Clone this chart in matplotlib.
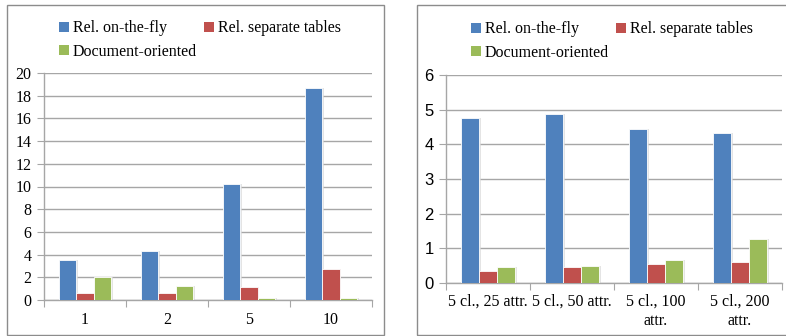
import matplotlib
matplotlib.use("Agg")
import matplotlib.pyplot as plt
from matplotlib.patches import Patch, Rectangle
import numpy as np

series_names = ["Rel. on-the-fly", "Rel. separate tables", "Document-oriented"]
colors = ["#4F81BD", "#C0504D", "#9BBB59"]

left_categories = ["1", "2", "5", "10"]
left_onthefly = [3.5, 4.35, 10.2, 18.7]
left_separate = [0.6, 0.6, 1.15, 2.75]
left_document = [2.0, 1.25, 0.2, 0.2]

right_categories = ["5 cl., 25 attr.", "5 cl., 50 attr.", "5 cl., 100\nattr.", "5 cl., 200\nattr."]
right_onthefly = [4.75, 4.87, 4.45, 4.33]
right_separate = [0.35, 0.45, 0.55, 0.62]
right_document = [0.45, 0.5, 0.67, 1.28]

serif = "Liberation Serif"
sans = "Liberation Sans"

fig = plt.figure(figsize=(7.86, 3.36), dpi=100)
W, H = 786, 336

def fx(px):
    return px / W

def fy(py):
    return 1 - py / H

# panel borders
for (x0, y0, x1, y1) in [(7, 5, 384, 335), (417, 5, 790, 335)]:
    fig.patches.append(Rectangle((fx(x0), fy(y1)), fx(x1 - x0), (y1 - y0) / H,
                                 transform=fig.transFigure, fill=False,
                                 edgecolor="#8c8c8c", linewidth=1.0))

def draw(ax, cats, data, ymax, leg_anchor):
    x = np.arange(len(cats))
    w = 0.215
    for i, (vals, c) in enumerate(zip(data, colors)):
        off = (i - 1) * w
        # shadow
        ax.bar(x + off + 0.02, vals, w, bottom=0, color="#d9d9d9", zorder=2,
               linewidth=0, alpha=0.7)
        ax.bar(x + off, vals, w, color=c, zorder=3, linewidth=0.6, edgecolor="white")
    ax.set_xlim(-0.5, len(cats) - 0.5)
    ax.set_ylim(0, ymax)
    ax.yaxis.grid(True, color="#a6a6a6", linewidth=1.0, zorder=0)
    ax.set_axisbelow(True)
    for s in ["top", "right"]:
        ax.spines[s].set_visible(False)
    for s in ["left", "bottom"]:
        ax.spines[s].set_color("#a6a6a6")
        ax.spines[s].set_linewidth(1.0)
    ax.set_xticks(np.arange(len(cats) + 1) - 0.5)
    ax.set_xticklabels([])
    ax.set_xticks(x, minor=True)
    ax.set_xticklabels(cats, minor=True, fontfamily=serif, fontsize=11.5)
    ax.tick_params(axis="x", which="major", length=5, color="#a6a6a6", direction="out")
    ax.tick_params(axis="x", which="minor", length=0, pad=9)
    ax.tick_params(axis="y", length=5, color="#a6a6a6", direction="out", pad=4)
    # legend filled row-wise: row1 = on-the-fly, separate; row2 = document
    order = [0, 2, 1]
    handles = [Patch(facecolor=colors[k], edgecolor="none") for k in order]
    labels = [series_names[k] for k in order]
    leg = fig.legend(handles, labels, loc="upper left", bbox_to_anchor=leg_anchor,
                     ncol=2, frameon=False, prop={"family": serif, "size": 11.5},
                     handlelength=0.6, handleheight=0.6, handletextpad=0.25,
                     columnspacing=0.45, labelspacing=0.45, borderaxespad=0)
    return leg

axL = fig.add_axes([fx(44), fy(300), fx(372 - 44), (300 - 73) / H])
draw(axL, left_categories, [left_onthefly, left_separate, left_document], 20,
     (fx(53), fy(14)))
axL.set_yticks(np.arange(0, 21, 2))
for lab in axL.get_yticklabels():
    lab.set_fontfamily(serif)
    lab.set_fontsize(11.5)

axR = fig.add_axes([fx(446), fy(283), fx(782 - 446), (283 - 75) / H])
draw(axR, right_categories, [right_onthefly, right_separate, right_document], 6,
     (fx(465), fy(15)))
axR.set_yticks(np.arange(0, 7, 1))
for lab in axR.get_yticklabels():
    lab.set_fontfamily(sans)
    lab.set_fontsize(12)
for lab in axR.get_xticklabels(minor=True):
    lab.set_linespacing(1.2)
    lab.set_verticalalignment("top")
axR.tick_params(axis="x", which="minor", pad=8)

fig.savefig("out.png", dpi=100)
